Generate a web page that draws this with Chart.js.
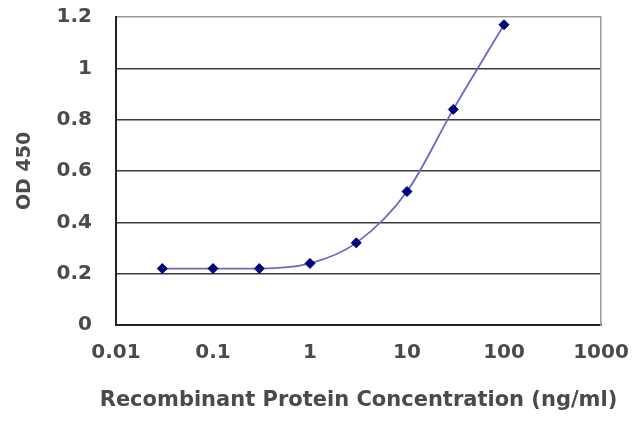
<!DOCTYPE html>
<html>
<head>
<meta charset="utf-8">
<script src="https://cdn.jsdelivr.net/npm/chart.js@4"></script>
<style>
  html, body { margin: 0; padding: 0; background: #fff; }
  #wrap { width: 640px; height: 427px; }
</style>
</head>
<body>
<div id="wrap"><canvas id="elisa" width="640" height="427"></canvas></div>
<script>
// ELISA standard curve
const concentration = [0.03, 0.1, 0.3, 1, 3, 10, 30, 100];   // ng/ml
const od450 = [0.22, 0.22, 0.22, 0.24, 0.32, 0.52, 0.84, 1.17];
const xTicks = [0.01, 0.1, 1, 10, 100, 1000];
const xTickLabels = ['0.01', '0.1', '1', '10', '100', '1000'];
const yTicks = [0, 0.2, 0.4, 0.6, 0.8, 1, 1.2];
const xTitle = 'Recombinant Protein Concentration (ng/ml)';

const textColor = '#4a4a4a';
const font = 'DejaVu Sans';

const points = concentration.map((c, i) => ({ x: c, y: od450[i] }));

// keep the plot box where the reference has it
const fixY = s => { s.width = 116; s.paddingTop = 0; s.paddingBottom = 0; };

// the x title is wider than the plot, so the scale title would squeeze it
const xTitlePlugin = {
    id: 'xTitle',
    afterDraw(chart) {
        const { ctx, chartArea } = chart;
        ctx.save();
        ctx.font = `bold 21px "${font}"`;
        ctx.fillStyle = textColor;
        ctx.textAlign = 'center';
        ctx.textBaseline = 'middle';
        ctx.fillText(xTitle, (chartArea.left + chartArea.right) / 2, chartArea.bottom + 76);
        ctx.restore();
    }
};

new Chart(document.getElementById('elisa'), {
    type: 'line',
    data: {
        datasets: [{
            data: points,
            borderColor: '#6a6ac6',
            borderWidth: 1.8,
            tension: 0.4,
            cubicInterpolationMode: 'monotone',
            pointStyle: 'rectRot',
            pointRadius: 5,
            pointBackgroundColor: '#00007a',
            pointBorderColor: '#00007a',
            pointBorderWidth: 1
        }]
    },
    plugins: [xTitlePlugin],
    options: {
        responsive: false,
        animation: false,
        layout: { padding: { left: 0, right: 39, top: 17, bottom: 0 } },
        plugins: { legend: { display: false }, tooltip: { enabled: false } },
        scales: {
            x: {
                type: 'logarithmic',
                min: 0.01,
                max: 1000,
                afterBuildTicks: s => { s.ticks = xTicks.map(v => ({ value: v })); },
                afterFit: s => { s.height = 102; s.paddingLeft = 0; s.paddingRight = 0; },
                grid: { display: false, drawTicks: false },
                border: { display: true, color: '#222', width: 2 },
                ticks: {
                    autoSkip: false,
                    maxRotation: 0,
                    padding: 16,
                    color: textColor,
                    font: { family: font, size: 20, weight: 'bold' },
                    callback: (v) => xTickLabels[xTicks.indexOf(v)] ?? ''
                },
                title: { display: false }
            },
            y: {
                min: 0,
                max: 1.2,
                afterBuildTicks: s => { s.ticks = yTicks.map(v => ({ value: v })); },
                afterFit: fixY,
                grid: {
                    drawTicks: false,
                    color: ctx => (ctx.tick && ctx.tick.value === 1.2) ? '#9a9a9a' : '#3c3c3c',
                    lineWidth: 1.5
                },
                border: { display: true, color: '#222', width: 2 },
                ticks: {
                    padding: 24,
                    color: textColor,
                    font: { family: font, size: 20, weight: 'bold' },
                    callback: v => String(v)
                },
                title: {
                    display: true,
                    text: 'OD 450',
                    color: textColor,
                    font: { family: font, size: 19, weight: 'bold' },
                    padding: { top: 14, bottom: 13 }
                }
            },
            right: {
                position: 'right',
                min: 0,
                max: 1.2,
                afterFit: s => { s.width = 0; s.paddingTop = 0; s.paddingBottom = 0; },
                grid: { display: false },
                ticks: { display: false },
                border: { display: true, color: '#9a9a9a', width: 1.5 }
            }
        }
    }
});
</script>
</body>
</html>
